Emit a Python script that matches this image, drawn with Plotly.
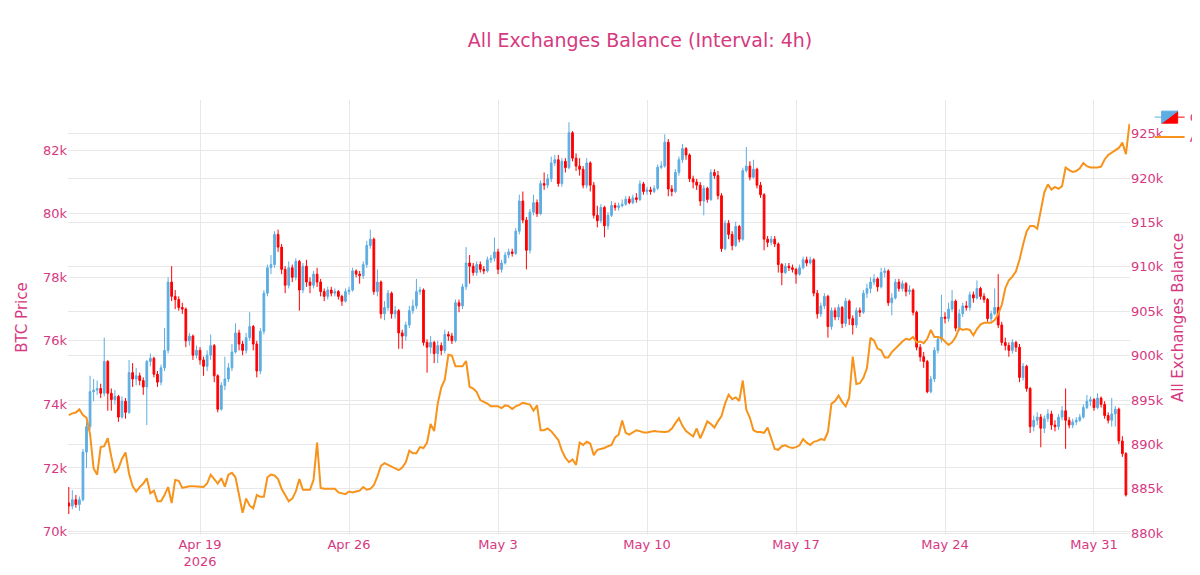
import pandas as pd
import plotly.graph_objects as go

# ---------------- data (4h candles, USD) ----------------
candle_start = "2026-04-12 20:00"
balance_start = "2026-04-12 20:00"

price_open = [
    70900,
    70800, 71000, 70850, 71000, 72500, 73300,  # Apr 13
    74400, 74450, 74500, 74350, 75350, 74350,  # Apr 14
    74150, 74250, 73600, 74100, 73750, 75000,  # Apr 15
    74800, 74900, 74750, 74550, 75350, 75450,  # Apr 16
    74950, 74700, 75150, 75700, 77850, 77400,  # Apr 17
    77300, 77050, 77000, 76000, 76150, 75550,  # Apr 18
    75700, 75400, 75200, 75550, 75850, 74900,  # Apr 19
    73850, 74600, 74800, 75150, 75650, 76250,  # Apr 20
    75900, 75700, 76100, 76450, 75900, 75050,  # Apr 21
    76300, 77500, 78300, 78400, 79350, 78950,  # Apr 22
    78250, 77750, 78300, 78000, 78500, 77600,  # Apr 23
    78350, 77850, 77750, 78100, 77850, 77550,  # Apr 24
    77400, 77600, 77500, 77550, 77400, 77250,  # Apr 25
    77550, 77600, 78200, 78100, 78050, 78400,  # Apr 26
    79000, 79200, 77550, 77850, 76850, 77050,  # Apr 27
    77500, 76850, 76950, 76250, 76150, 76500,  # Apr 28
    76950, 77100, 77550, 77600, 75950, 75800,  # Apr 29
    75950, 75600, 75850, 75700, 76200, 76150,  # Apr 30
    76000, 77200, 77100, 77700, 78450, 78350,  # May 1
    78150, 78400, 78250, 78200, 78550, 78600,  # May 2
    78800, 78250, 78450, 78700, 78800, 78750,  # May 3
    79450, 80400, 79800, 78850, 80050, 80350,  # May 4
    80000, 80950, 80900, 81100, 81600, 81700,  # May 5
    80950, 81650, 81450, 82550, 81750, 81500,  # May 6
    81400, 80900, 81600, 80900, 79950, 79780,  # May 7
    80200, 79620, 79950, 80260, 80200, 80250,  # May 8
    80300, 80460, 80350, 80500, 80450, 80940,  # May 9
    80700, 80750, 80700, 80800, 81460, 81500,  # May 10
    82250, 80780, 80700, 81300, 81700, 82050,  # May 11
    81850, 81100, 81000, 80900, 80400, 80800,  # May 12
    80450, 81300, 81200, 80570, 78900, 79700,  # May 13
    79350, 79000, 79600, 79200, 81360, 81500,  # May 14
    81150, 81400, 80900, 80600, 79200, 79100,  # May 15
    79200, 79050, 78400, 78150, 78350, 78300,  # May 16
    78250, 78100, 78300, 78550, 78450, 78550,  # May 17
    77500, 76850, 77100, 77400, 76450, 76950,  # May 18
    76750, 77050, 76550, 77250, 76700, 76500,  # May 19
    76950, 76900, 77500, 77650, 77850, 77950,  # May 20
    77700, 78150, 78200, 77200, 77350, 77850,  # May 21
    77650, 77800, 77550, 77600, 76900, 75800,  # May 22
    75500, 75350, 74400, 74800, 75700, 76050,  # May 23
    76750, 76700, 77000, 77250, 76400, 76850,  # May 24
    77100, 77050, 77450, 77350, 77650, 77400,  # May 25
    77300, 76700, 76850, 77050, 76500, 75950,  # May 26
    75850, 75700, 75950, 75800, 74850, 75200,  # May 27
    74500, 73300, 73500, 73600, 73250, 73550,  # May 28
    73700, 73350, 73300, 73600, 73800, 73500,  # May 29
    73350, 73450, 73500, 73600, 73900, 74100,  # May 30
    74150, 73900, 74200, 74000, 73650, 73500,  # May 31
    73700, 73850, 72850, 72450,                # Jun 1
]

price_high = [
    71400,
    71300, 71150, 71100, 72600, 73450, 74900,
    74800, 74750, 74650, 76100, 75400, 74500,
    74450, 74300, 74250, 74200, 75400, 75300,
    75150, 75000, 74850, 75400, 75600, 75500,
    75050, 75250, 76400, 78000, 78350, 77600,
    77400, 77200, 77050, 76250, 76200, 75850,
    75800, 75500, 75700, 76200, 75900, 74950,
    74700, 75500, 75300, 75900, 76550, 76350,
    76000, 76250, 76900, 76500, 76000, 76400,
    77600, 78400, 78700, 79450, 79500, 79050,
    78350, 78500, 78400, 78600, 78550, 78450,
    78550, 78000, 78200, 78300, 77950, 77650,
    77700, 77700, 77650, 77600, 77450, 77650,
    77700, 78300, 78250, 78200, 78500, 79150,
    79500, 79250, 78250, 77900, 77250, 77600,
    77550, 77100, 77000, 76350, 76600, 77100,
    77300, 77950, 77700, 77650, 76050, 76150,
    76000, 76000, 75950, 76350, 76300, 76250,
    77300, 77300, 77800, 78950, 78700, 78450,
    78500, 78500, 78350, 78650, 78700, 79250,
    78900, 78550, 78800, 78900, 78900, 79550,
    80600, 80700, 79900, 80150, 80600, 80450,
    81050, 81300, 81250, 81800, 81850, 81850,
    81750, 81750, 82880, 82600, 81900, 81750,
    81500, 81750, 81650, 81000, 80250, 80300,
    80250, 80050, 80400, 80350, 80350, 80450,
    80550, 80550, 80600, 80650, 81050, 81000,
    80850, 80850, 80900, 81550, 81650, 82500,
    82350, 80900, 81400, 81800, 82200, 82100,
    81900, 81200, 81100, 81000, 80900, 80850,
    81400, 81400, 81350, 80650, 79800, 79800,
    79450, 79750, 79650, 81450, 82100, 81650,
    81700, 81450, 81000, 80650, 79300, 79300,
    79300, 79100, 78450, 78450, 78450, 78400,
    78300, 78400, 78650, 78650, 78650, 78600,
    77600, 77200, 77500, 77450, 77050, 77050,
    77150, 77100, 77350, 77300, 76800, 77050,
    77050, 77600, 77800, 78000, 78100, 78000,
    78300, 78300, 78250, 77500, 77950, 77950,
    77900, 77850, 77750, 77650, 76950, 75900,
    75650, 75400, 74900, 75800, 76150, 77450,
    76900, 77200, 77600, 77300, 77000, 77200,
    77250, 77550, 77550, 77900, 77700, 77500,
    77350, 76950, 77650, 78100, 76600, 76100,
    75950, 76050, 76000, 75900, 75300, 75250,
    74550, 73650, 73750, 73700, 73650, 73850,
    73800, 73500, 73700, 73950, 74500, 73600,
    73550, 73600, 73700, 74000, 74300, 74250,
    74200, 74350, 74250, 74100, 73750, 74200,
    73950, 73900, 73000, 72500,
]

price_low = [
    70550,
    70700, 70750, 70650, 70950, 72000, 73200,
    74100, 74300, 74200, 74250, 73800, 73800,
    74000, 73450, 73550, 73550, 73700, 74550,
    74600, 74600, 74300, 73350, 75200, 74850,
    74550, 74600, 75050, 75600, 77250, 77000,
    76950, 76850, 75800, 75850, 75400, 75450,
    75250, 74900, 75050, 75400, 74700, 73750,
    73800, 74450, 74700, 75050, 75600, 75700,
    75550, 75600, 76000, 75700, 74850, 74950,
    76200, 77400, 78100, 78300, 78800, 78100,
    77500, 77650, 77850, 77900, 76950, 77500,
    77700, 77500, 77650, 77700, 77400, 77250,
    77300, 77400, 77400, 77300, 77100, 77200,
    77450, 77550, 78000, 77800, 77950, 78300,
    78900, 77450, 77400, 76700, 76650, 76950,
    76700, 76700, 75750, 75750, 76000, 76400,
    76850, 77000, 77450, 75850, 75000, 75600,
    75300, 75300, 75550, 75600, 76000, 75900,
    75950, 76900, 77000, 77600, 77800, 78050,
    78050, 78150, 78100, 78150, 78450, 78500,
    78100, 78150, 78400, 78600, 78650, 78700,
    79350, 79700, 78250, 78750, 79950, 79900,
    79950, 80750, 80800, 81000, 81500, 80850,
    80850, 81300, 81400, 81650, 81350, 81200,
    80800, 80800, 80700, 79850, 79570, 79700,
    79260, 79500, 79900, 80100, 80100, 80200,
    80250, 80300, 80300, 80350, 80400, 80600,
    80600, 80600, 80650, 80750, 81400, 81450,
    80550, 80550, 80650, 81200, 81600, 81700,
    81000, 80800, 80750, 80250, 79950, 80350,
    80400, 81100, 80450, 78800, 78850, 79200,
    78850, 78950, 79100, 79150, 81300, 81050,
    81100, 80800, 80500, 78850, 78950, 79000,
    78950, 78150, 77750, 78100, 78200, 78150,
    77800, 78050, 78250, 78350, 78400, 77400,
    76700, 76750, 77000, 76100, 76350, 76650,
    76650, 76400, 76450, 76500, 76200, 76400,
    76750, 76850, 77350, 77500, 77750, 77550,
    77650, 78000, 77100, 76800, 77300, 77550,
    77550, 77400, 77450, 76800, 75700, 75350,
    75150, 74350, 74350, 74700, 75600, 75950,
    76550, 76600, 76900, 76300, 76300, 76750,
    76950, 76950, 77200, 77300, 77300, 77200,
    76600, 76600, 76800, 76400, 75850, 75700,
    75500, 75600, 75650, 74700, 74750, 74400,
    73100, 73150, 73350, 72650, 73100, 73450,
    73200, 73150, 73200, 73500, 72600, 73250,
    73250, 73350, 73450, 73550, 73850, 73950,
    73800, 73850, 73900, 73550, 73400, 73300,
    73300, 72750, 72350, 71100,
]

price_close = [
    70800,
    71000, 70850, 71000, 72500, 73300, 74400,
    74450, 74500, 74350, 75350, 74350, 74150,
    74250, 73600, 74100, 73750, 75000, 74800,
    74900, 74750, 74550, 75350, 75450, 74950,
    74700, 75150, 75700, 77850, 77400, 77300,
    77050, 77000, 76000, 76150, 75550, 75700,
    75400, 75200, 75550, 75850, 74900, 73850,
    74600, 74800, 75150, 75650, 76250, 75900,
    75700, 76100, 76450, 75900, 75050, 76300,
    77500, 78300, 78400, 79350, 78950, 78250,
    77750, 78300, 78000, 78500, 77600, 78350,
    77850, 77750, 78100, 77850, 77550, 77400,
    77600, 77500, 77550, 77400, 77250, 77550,
    77600, 78200, 78100, 78050, 78400, 79000,
    79200, 77550, 77850, 76850, 77050, 77500,
    76850, 76950, 76250, 76150, 76500, 76950,
    77100, 77550, 77600, 75950, 75800, 75950,
    75600, 75850, 75700, 76200, 76150, 76000,
    77200, 77100, 77700, 78450, 78350, 78150,
    78400, 78250, 78200, 78550, 78600, 78800,
    78250, 78450, 78700, 78800, 78750, 79450,
    80400, 79800, 78850, 80050, 80350, 80000,
    80950, 80900, 81100, 81600, 81700, 80950,
    81650, 81450, 82550, 81750, 81500, 81400,
    80900, 81600, 80900, 79950, 79780, 80200,
    79620, 79950, 80260, 80200, 80250, 80300,
    80460, 80350, 80500, 80450, 80940, 80700,
    80750, 80700, 80800, 81460, 81500, 82250,
    80780, 80700, 81300, 81700, 82050, 81850,
    81100, 81000, 80900, 80400, 80800, 80450,
    81300, 81200, 80570, 78900, 79700, 79350,
    79000, 79600, 79200, 81360, 81500, 81150,
    81400, 80900, 80600, 79200, 79100, 79200,
    79050, 78400, 78150, 78350, 78300, 78250,
    78100, 78300, 78550, 78450, 78550, 77500,
    76850, 77100, 77400, 76450, 76950, 76750,
    77050, 76550, 77250, 76700, 76500, 76950,
    76900, 77500, 77650, 77850, 77950, 77700,
    78150, 78200, 77200, 77350, 77850, 77650,
    77800, 77550, 77600, 76900, 75800, 75500,
    75350, 74400, 74800, 75700, 76050, 76750,
    76700, 77000, 77250, 76400, 76850, 77100,
    77050, 77450, 77350, 77650, 77400, 77300,
    76700, 76850, 77050, 76500, 75950, 75850,
    75700, 75950, 75800, 74850, 75200, 74500,
    73300, 73500, 73600, 73250, 73550, 73700,
    73350, 73300, 73600, 73800, 73500, 73350,
    73450, 73500, 73600, 73900, 74100, 74150,
    73900, 74200, 74000, 73650, 73500, 73700,
    73850, 72850, 72450, 71150,
]

exchange_balance = [
    893300,
    893500, 893600, 893950, 893300, 893000, 891200,  # Apr 13
    887300, 886600, 889700, 889800, 890700, 888600,  # Apr 14
    886800, 887300, 888400, 889100, 886700, 885300,  # Apr 15
    884700, 885200, 885600, 886200, 884500, 884800,  # Apr 16
    883600, 883600, 884300, 885200, 883400, 886000,  # Apr 17
    885900, 885100, 885200, 885300, 885300, 885250,  # Apr 18
    885250, 885200, 885600, 886600, 886100, 885600,  # Apr 19
    886200, 885250, 886600, 886800, 886300, 884200,  # Apr 20
    882300, 883900, 883100, 882800, 884300, 884100,  # Apr 21
    884100, 886300, 886600, 886500, 886100, 885000,  # Apr 22
    884300, 883600, 883900, 884700, 886100, 884900,  # Apr 23
    884900, 884900, 886000, 890200, 885100, 885000,  # Apr 24
    885000, 885000, 885000, 884600, 884500, 884400,  # Apr 25
    884700, 884600, 884700, 884800, 885200, 884900,  # Apr 26
    885000, 885400, 886400, 887600, 887900, 887700,  # Apr 27
    887500, 887300, 887100, 887400, 888000, 889300,  # Apr 28
    889000, 889000, 889700, 889600, 890200, 892300,  # Apr 29
    891500, 894600, 896400, 897300, 900100, 900000,  # Apr 30
    898800, 898800, 898800, 899400, 896500, 896300,  # May 1
    895900, 895000, 894800, 894600, 894300, 894300,  # May 2
    894300, 894100, 894400, 894300, 894000, 894300,  # May 3
    894450, 894700, 894600, 894500, 893800, 894400,  # May 4
    891600, 891600, 891800, 891500, 891000, 890500,  # May 5
    889300, 888500, 888000, 888300, 887700, 890200,  # May 6
    889950, 890300, 890100, 888800, 889400, 889500,  # May 7
    889600, 889800, 889950, 890800, 891100, 892700,  # May 8
    891300, 891100, 891400, 891600, 891500, 891350,  # May 9
    891350, 891400, 891500, 891450, 891400, 891400,  # May 10
    891450, 891800, 892400, 892950, 892100, 891500,  # May 11
    891200, 890900, 891800, 890700, 891600, 892600,  # May 12
    892300, 891900, 892600, 893200, 894600, 895600,  # May 13
    895100, 895300, 894900, 897200, 893900, 893000,  # May 14
    891600, 891400, 891400, 891300, 891900, 890800,  # May 15
    889500, 889400, 889800, 889900, 889700, 889600,  # May 16
    889700, 889900, 890600, 890200, 889950, 890300,  # May 17
    890400, 890600, 890500, 891400, 894600, 894900,  # May 18
    895500, 894800, 894300, 895300, 899900, 896800,  # May 19
    896900, 897500, 898600, 902000, 901700, 900800,  # May 20
    900600, 899800, 899800, 900400, 900800, 901300,  # May 21
    901600, 901900, 901800, 902100, 901500, 901600,  # May 22
    901400, 901900, 902900, 902100, 902100, 902000,  # May 23
    901600, 901200, 901500, 902100, 903100, 902900,  # May 24
    903000, 902900, 902300, 903000, 903500, 903700,  # May 25
    903700, 903700, 904000, 904700, 905700, 907600,  # May 26
    908500, 908900, 909500, 910800, 912500, 914000,  # May 27
    914600, 914600, 914300, 916500, 918400, 919300,  # May 28
    918700, 919000, 918800, 919100, 921200, 920900,  # May 29
    920700, 920800, 921100, 921700, 921350, 921200,  # May 30
    921200, 921200, 921300, 922100, 922600, 922900,  # May 31
    923100, 923400, 924000, 922700, 926100,          # Jun 1
]

candle_times = pd.date_range(candle_start, periods=len(price_close), freq="4h")
balance_times = pd.date_range(balance_start, periods=len(exchange_balance), freq="4h")

PINK = "#d6397f"
GRID = "#E8E8E8"

fig = go.Figure()
fig.add_trace(go.Candlestick(
    x=candle_times, open=price_open, high=price_high, low=price_low, close=price_close,
    name="Candlestick",
    increasing=dict(line=dict(color="#5DADE2", width=1), fillcolor="#5DADE2"),
    decreasing=dict(line=dict(color="#FF0000", width=1), fillcolor="#FF0000"),
    yaxis="y",
))
fig.add_trace(go.Scatter(
    x=balance_times, y=exchange_balance, mode="lines",
    name="All Exchanges Balance",
    line=dict(color="#F7931A", width=2),
    yaxis="y2",
))

fig.update_layout(
    template="plotly_white",
    width=1200, height=575,
    margin=dict(l=60, r=78, t=92, b=48, autoexpand=False),
    font=dict(family="Verdana, DejaVu Sans, sans-serif", size=13, color=PINK),
    title=dict(text="All Exchanges Balance (Interval: 4h)", x=0.5267, xanchor="center",
               y=0.9443, yanchor="middle", font=dict(size=19, color=PINK)),
    xaxis=dict(
        type="date",
        range=["2026-04-12 19:08", "2026-06-01 16:36"],
        rangeslider=dict(visible=False),
        tick0="2026-04-19", dtick=7 * 86400000,
        showgrid=True, gridcolor=GRID,
        tickfont=dict(size=13),
    ),
    yaxis=dict(
        title=dict(text="BTC Price", font=dict(size=15), standoff=11),
        range=[69890, 83580], dtick=2000,
        showgrid=True, gridcolor=GRID, zeroline=False,
        tickfont=dict(size=13),
    ),
    yaxis2=dict(
        title=dict(text="All Exchanges Balance", font=dict(size=15), standoff=9),
        overlaying="y", side="right",
        range=[879800, 928800], dtick=5000,
        showgrid=True, gridcolor=GRID, zeroline=False,
        tickfont=dict(size=13),
    ),
    legend=dict(x=1.0185, y=0.995, xanchor="left", yanchor="top", font=dict(size=13),
                bgcolor="rgba(0,0,0,0)"),
    showlegend=True,
)

fig.write_html("out.html")
